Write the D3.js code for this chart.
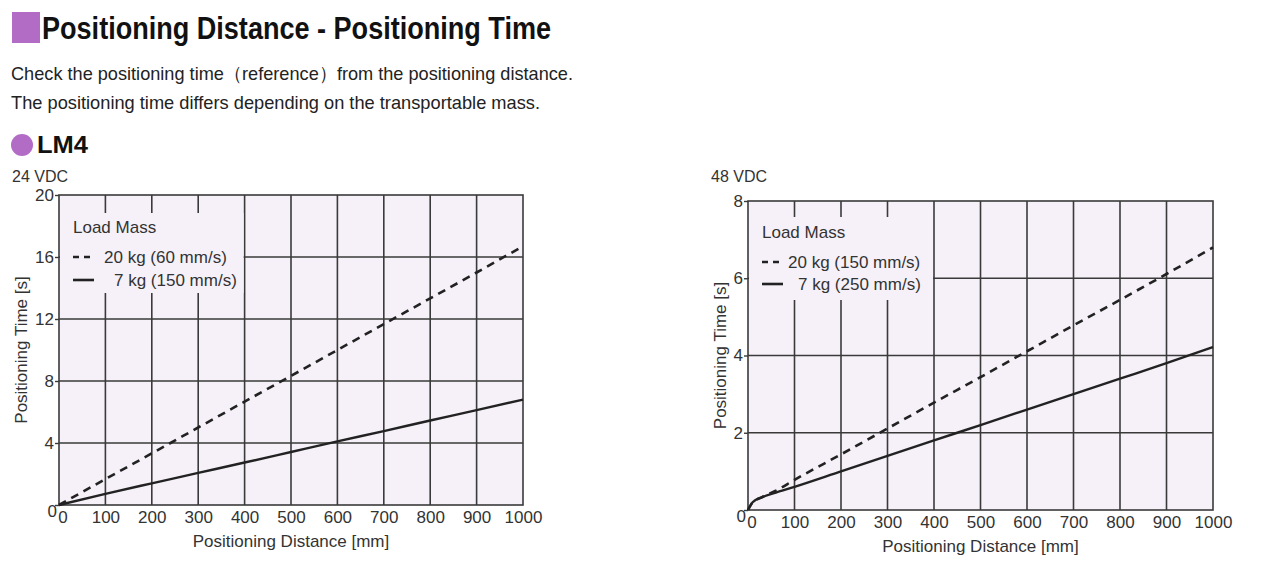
<!DOCTYPE html>
<html><head><meta charset="utf-8">
<script src="https://cdn.jsdelivr.net/npm/d3@7"></script>
<style>
body{margin:0;background:#fff;}
svg text{font-family:"Liberation Sans",Arial,sans-serif;fill:#222;}
</style></head>
<body><svg id="c" width="1280" height="565"></svg>
<script>
const distances = [0,100,200,300,400,500,600,700,800,900,1000];
// Left chart (24 VDC)
const left20kg = [0,1.67,3.33,5.0,6.67,8.33,10.0,11.67,13.33,15.0,16.7];
const left7kg  = [0,0.72,1.4,2.07,2.74,3.42,4.1,4.77,5.45,6.12,6.8];
const leftYTicks = [0,4,8,12,16,20];
// Right chart (48 VDC)
const rightX20 = [0,10,30,60,100,200,300,400,500,600,700,800,900,1000];
const right20kg = [0,0.2,0.33,0.5,0.78,1.44,2.11,2.78,3.44,4.11,4.78,5.44,6.11,6.8];
const rightX7 = [0,10,30,60,100,200,300,400,500,600,700,800,900,1000];
const right7kg  = [0,0.2,0.33,0.45,0.6,1.0,1.4,1.8,2.2,2.6,3.0,3.4,3.8,4.22];
const rightYTicks = [0,2,4,6,8];
const xTicks = distances;

const svg = d3.select("#c");
const purple = "#b26cc6";

function fitText(sel, w){ return sel.attr("textLength",w).attr("lengthAdjust","spacingAndGlyphs"); }

svg.append("rect").attr("x",12).attr("y",12).attr("width",28).attr("height",31).attr("fill",purple);
fitText(svg.append("text").attr("x",42).attr("y",39).attr("font-size",31).attr("font-weight","bold").style("fill","#111")
  .text("Positioning Distance - Positioning Time"), 509);
fitText(svg.append("text").attr("x",11).attr("y",80).attr("font-size",19).text("Check the positioning time（reference）from the positioning distance."), 562);
fitText(svg.append("text").attr("x",11).attr("y",109).attr("font-size",19).text("The positioning time differs depending on the transportable mass."), 529);
svg.append("circle").attr("cx",22).attr("cy",145).attr("r",11).attr("fill",purple);
fitText(svg.append("text").attr("x",37).attr("y",153).attr("font-size",23).attr("font-weight","bold").style("fill","#111").text("LM4"), 51);

function chart(o){
  const g = svg.append("g");
  const x = d3.scaleLinear().domain([0,1000]).range([o.x0,o.x1]);
  const y = d3.scaleLinear().domain([0,o.ymax]).range([o.y0,o.y1]);
  g.append("rect").attr("x",o.x0).attr("y",o.y1).attr("width",o.x1-o.x0).attr("height",o.y0-o.y1).attr("fill","#f6f1f8");
  // grid
  g.selectAll(".vg").data(xTicks.slice(1,-1)).join("line")
    .attr("x1",d=>x(d)).attr("x2",d=>x(d)).attr("y1",o.y1).attr("y2",o.y0)
    .attr("stroke","#3a3a3a").attr("stroke-width",1.6);
  g.selectAll(".hg").data(o.yticks.slice(1,-1)).join("line")
    .attr("x1",o.x0).attr("x2",o.x1).attr("y1",d=>y(d)).attr("y2",d=>y(d))
    .attr("stroke","#3a3a3a").attr("stroke-width",1.4);
  // legend box background
  g.append("rect").attr("x",o.x0+1).attr("y",o.lb[0]).attr("width",x(400)-o.x0-2).attr("height",o.lb[1]-o.lb[0]).attr("fill","#f6f1f8");
  g.append("rect").attr("x",o.x0).attr("y",o.y1).attr("width",o.x1-o.x0).attr("height",o.y0-o.y1)
    .attr("fill","none").attr("stroke","#3a3a3a").attr("stroke-width",1.6);
  // axes
  const ya = d3.axisLeft(y).tickValues(o.yticks).tickSize(4).tickPadding(1);
  const yg = g.append("g").attr("transform",`translate(${o.x0},0)`).call(ya);
  yg.select(".domain").remove();
  yg.selectAll("line").attr("stroke","#3a3a3a").attr("stroke-width",1.4);
  yg.selectAll("text").attr("font-size",17).style("fill","#333").attr("font-family",null);
  yg.selectAll(".tick").filter(d=>d===0).select("text").attr("dy","0.65em").attr("x",-2);
  const xa = d3.axisBottom(x).tickValues(xTicks).tickFormat(d3.format("d")).tickSize(0).tickPadding(6);
  const xg = g.append("g").attr("transform",`translate(0,${o.y0})`).call(xa);
  xg.select(".domain").remove();
  xg.selectAll("text").attr("font-size",17).style("fill","#333").attr("font-family",null);
  xg.selectAll(".tick").filter(d=>d===0).select("text").attr("dx","0.2em");
  g.append("text").attr("x",(o.x0+o.x1)/2).attr("y",o.y0+42).attr("text-anchor","middle").attr("font-size",17).style("fill","#333").text("Positioning Distance [mm]");
  g.append("text").attr("transform",`translate(${o.x0-o.yl},${(o.y0+o.y1)/2}) rotate(-90)`).attr("text-anchor","middle").attr("font-size",17).style("fill","#333").text("Positioning Time [s]");
  g.append("text").attr("x",o.vx).attr("y",182).attr("font-size",16).style("fill","#333").text(o.volt);
  // lines
  const line = d3.line().x(d=>x(d[0])).y(d=>y(d[1])).curve(d3.curveMonotoneX);
  g.append("path").datum(o.d20).attr("d",line).attr("fill","none").attr("stroke","#222").attr("stroke-width",2.6).attr("stroke-dasharray","8,6");
  g.append("path").datum(o.d7).attr("d",line).attr("fill","none").attr("stroke","#222").attr("stroke-width",2.4);
  // legend
  const L = o.leg;
  g.append("text").attr("x",L.x).attr("y",L.y).attr("font-size",17).style("fill","#333").text("Load Mass");
  g.append("line").attr("x1",L.x).attr("x2",L.x+20).attr("y1",L.y+24).attr("y2",L.y+24).attr("stroke","#222").attr("stroke-width",2.6).attr("stroke-dasharray","6,5");
  g.append("text").attr("x",L.t1).attr("y",L.y+30).attr("font-size",17).style("fill","#333").text(o.lab20);
  g.append("line").attr("x1",L.x).attr("x2",L.x+21).attr("y1",L.y+L.dy2).attr("y2",L.y+L.dy2).attr("stroke","#222").attr("stroke-width",2.6);
  g.append("text").attr("x",L.t2).attr("y",L.y+L.dy2+6).attr("font-size",17).style("fill","#333").text(o.lab7);
}

chart({x0:59,x1:523,y0:505,y1:195,ymax:20,yticks:leftYTicks,lb:[213,293],vx:12,volt:"24 VDC",yl:32,
  d20:distances.map((d,i)=>[d,left20kg[i]]), d7:distances.map((d,i)=>[d,left7kg[i]]),
  leg:{x:73,y:233,t1:104,t2:114,dy2:47}, lab20:"20 kg (60 mm/s)", lab7:"7 kg (150 mm/s)"});
chart({x0:748,x1:1213,y0:510,y1:201,ymax:8,yticks:rightYTicks,lb:[217,300],vx:711,volt:"48 VDC",yl:22,
  d20:rightX20.map((d,i)=>[d,right20kg[i]]), d7:rightX7.map((d,i)=>[d,right7kg[i]]),
  leg:{x:762,y:238,t1:788,t2:798,dy2:46}, lab20:"20 kg (150 mm/s)", lab7:"7 kg (250 mm/s)"});
</script></body></html>
